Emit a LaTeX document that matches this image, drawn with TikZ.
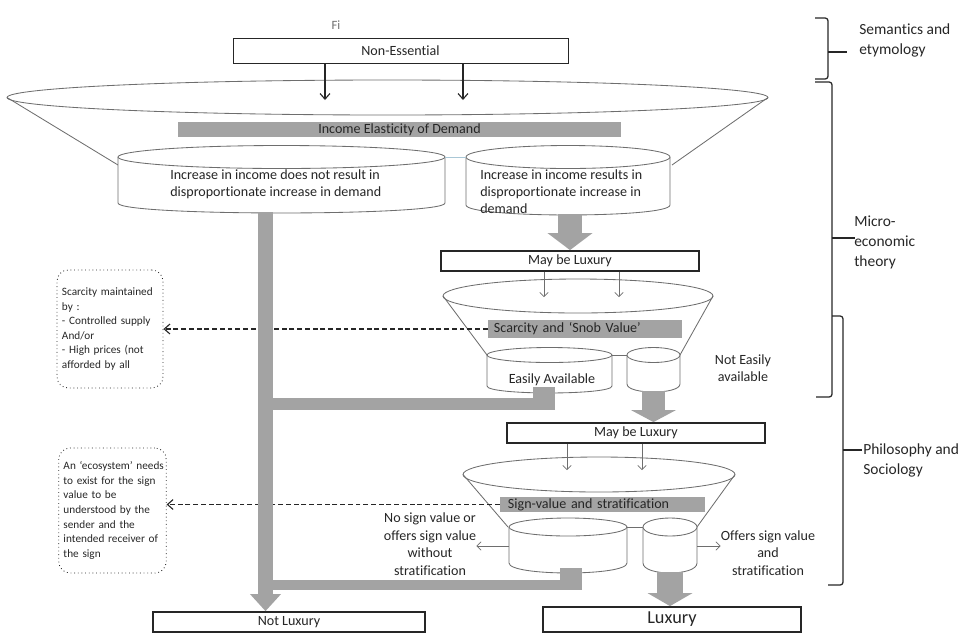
\documentclass[tikz,border=0pt]{standalone}
\usepackage{fontspec}
\setmainfont{Carlito}[Ligatures={TeX,NoCommon}]
\usepackage{xcolor}
\usepackage{tikz}
\usetikzlibrary{positioning,arrows.meta}
\definecolor{ink}     {HTML}{262626}
\definecolor{edge}    {HTML}{6E6E6E}
\definecolor{bargrey} {HTML}{A3A3A3}
\definecolor{linkblue}{HTML}{A9C7D6}
\tikzset{
  plainbox/.style  = {draw=ink, line width=0.6pt, fill=white, text=ink, inner sep=0pt,
                      font=\fontsize{10}{12}\selectfont},
  heavybox/.style  = {plainbox, line width=1.3pt},
  greybar/.style   = {fill=bargrey, draw=none, text=ink, inner sep=0pt,
                      font=\fontsize{10}{12}\selectfont},
  cyl/.style       = {draw=edge, line width=0.6pt, fill=white},
  funnel/.style    = {draw=edge, line width=0.6pt},
  link/.style      = {draw=edge, line width=0.6pt},
  note/.style      = {draw=ink, dotted, line width=0.6pt, rounded corners=8pt, align=left,
                      text=ink, font=\fontsize{8}{10.4}\selectfont},
  flow/.style      = {-{Straight Barb[length=4pt,width=7pt]}, draw=ink, line width=0.8pt},
  thinflow/.style  = {-{Straight Barb[length=3pt,width=6pt]}, draw=edge, line width=0.5pt},
  dashflow/.style  = {-{Straight Barb[length=4pt,width=7pt]}, draw=ink, line width=0.8pt,
                      dash pattern=on 3.5pt off 2pt},
  blockflow/.style = {draw=bargrey, line width=0.6cm,
                      -{Triangle[length=0.35cm,width=1.125cm,line width=0pt]}},
  trunk/.style     = {draw=bargrey, line width=0.375cm,
                      -{Triangle[length=0.425cm,width=0.775cm,line width=0pt]}},
  joinbar/.style   = {draw=bargrey, line width=0.3cm},
  brace/.style     = {draw=ink, line width=0.9pt, rounded corners=2pt},
  lbl/.style       = {font=\fontsize{10}{12}\selectfont, text=ink, align=left, inner sep=0pt},
  side/.style      = {font=\fontsize{11}{14.2}\selectfont, text=ink, align=left, inner sep=0pt},
}

\begin{document}
\begin{tikzpicture}[x=0.025cm, y=-0.025cm]
  \useasboundingbox (0,0) rectangle (968,634);

  % top
  \node[lbl, text=edge, font=\fontsize{9}{11}\selectfont] (figLbl) at (336,25) {Fi};
  \node[plainbox, minimum width=8.375cm, minimum height=0.625cm] (nonEss) at (400.5,50.5) {Non-Essential};

  % funnel 1: income elasticity
  \draw[funnel] (387.5,97.5) ellipse [x radius=380.5, y radius=17.5];
  \draw[funnel] (7,97.5) -- (118,165);
  \draw[funnel] (768,97.5) -- (672,165);
  \coordinate (inA1) at (325,100);
  \coordinate (inA2) at (463,100);
  \draw[flow] (nonEss.south -| inA1) -- (inA1);
  \draw[flow] (nonEss.south -| inA2) -- (inA2);
  \node[greybar, minimum width=11.075cm, minimum height=0.375cm] (elastic) at (399.5,129.5) {Income Elasticity of Demand};

  \filldraw[cyl] (118,157) -- (118,203) .. controls (118,216.3) and (445,216.3) .. (445,203) -- (445,157);
  \filldraw[cyl] (281.5,157) ellipse [x radius=163.5, y radius=11.5];
  \filldraw[cyl] (466,157) -- (466,205) .. controls (466,218.3) and (670,218.3) .. (670,205) -- (670,157);
  \filldraw[cyl] (568,157) ellipse [x radius=102, y radius=11.5];
  \coordinate (noE) at (445,157);
  \coordinate (yesW) at (466,157);
  \draw[link, draw=linkblue] (noE) -- (yesW);
  \node[lbl, anchor=west] (noInc) at (170,184) {Increase in income does not result in\\disproportionate increase in demand};
  \node[lbl, anchor=west] (yesInc) at (480,192) {Increase in income results in\\disproportionate increase in\\demand};

  % funnel 2: scarcity
  \coordinate (yesBot) at (570,214);
  \node[heavybox, minimum width=6.45cm, minimum height=0.5cm] (may1) at (570,261) {May be Luxury};
  \draw[blockflow, -{Triangle[length=0.425cm,width=1.125cm,line width=0pt]}] (yesBot) -- (yesBot |- may1.north);
  \draw[funnel] (578,296) ellipse [x radius=135, y radius=17];
  \draw[funnel] (443,296) -- (487,355);
  \draw[funnel] (713,296) -- (680,355);
  \coordinate (inB1) at (544,297);
  \coordinate (inB2) at (619,297);
  \draw[thinflow] (may1.south -| inB1) -- (inB1);
  \draw[thinflow] (may1.south -| inB2) -- (inB2);
  \node[greybar, minimum width=4.85cm, minimum height=0.45cm, text width=4.55cm, align=left] (scarBar) at (585,329) {Scarcity and ‘Snob Value’};

  \filldraw[cyl] (487,355) -- (487,386) .. controls (487,395.3) and (612,395.3) .. (612,386) -- (612,355);
  \filldraw[cyl] (549.5,355) ellipse [x radius=62.5, y radius=7.5];
  \filldraw[cyl] (627,355) -- (627,384) .. controls (627,394.7) and (680,394.7) .. (680,384) -- (680,355);
  \filldraw[cyl] (653.5,355) ellipse [x radius=26.5, y radius=7.5];
  \coordinate (easyE) at (612,355);
  \coordinate (hardW) at (627,355);
  \draw[link] (easyE) -- (hardW);
  \node[lbl, align=center] (easyLbl) at (552,380) {Easily Available};
  \node[lbl, align=center] (hardLbl) at (743,368) {Not Easily\\available};

  \node[note, minimum width=2.65cm, minimum height=2.95cm, text width=2.4cm] (scarNote) at (110,329)
    {Scarcity maintained\\by :\\- Controlled supply\\And/or\\- High prices (not\\afforded by all};
  \draw[dashflow] (scarBar.west) -- (scarNote.east);

  % funnel 3: sign value
  \coordinate (hardBot) at (653.5,391);
  \node[heavybox, minimum width=6.45cm, minimum height=0.5cm] (may2) at (636,433) {May be Luxury};
  \draw[blockflow, line width=0.575cm, -{Triangle[length=0.3cm,width=1.125cm,line width=0pt]}] (hardBot) -- (hardBot |- may2.north);
  \draw[funnel] (599,474.5) ellipse [x radius=136, y radius=17.5];
  \draw[funnel] (463,474.5) -- (508,527);
  \draw[funnel] (735,474.5) -- (697,527);
  \coordinate (inC1) at (567,470);
  \coordinate (inC2) at (642,470);
  \draw[thinflow] (may2.south -| inC1) -- (inC1);
  \draw[thinflow] (may2.south -| inC2) -- (inC2);
  \node[greybar, minimum width=5.125cm, minimum height=0.375cm, text width=4.725cm, align=left] (signBar) at (602.5,504.5) {Sign-value and stratification};

  \filldraw[cyl] (509,527) -- (509,563) .. controls (509,576.3) and (627,576.3) .. (627,563) -- (627,527);
  \filldraw[cyl] (568,527) ellipse [x radius=59, y radius=9];
  \filldraw[cyl] (643,527) -- (643,563) .. controls (643,576.3) and (697,576.3) .. (697,563) -- (697,527);
  \filldraw[cyl] (670,527) ellipse [x radius=27, y radius=9];
  \coordinate (signNoE) at (627,527);
  \coordinate (signYesW) at (643,527);
  \draw[link] (signNoE) -- (signYesW);

  \node[lbl, align=center, font=\fontsize{10}{12.5}\selectfont] (noSign) at (430,544)
    {No sign value or\\offers sign value\\without\\stratification};
  \node[lbl, align=center, font=\fontsize{10}{12.5}\selectfont] (yesSign) at (768,553)
    {Offers sign value\\and\\stratification};
  \coordinate (signNoW) at (509,546);
  \coordinate (signYesR) at (697,546);
  \draw[thinflow] (signNoW) -- (noSign.east |- signNoW);
  \draw[thinflow] (signYesR) -- (yesSign.west |- signYesR);

  \node[note, minimum width=2.625cm, minimum height=3.125cm, text width=2.45cm] (signNote) at (112.5,510.5)
    {\makebox[2.45cm][l]{An ‘ecosystem’ needs}\\to exist for the sign\\value to be\\understood by the\\sender and the\\intended receiver of\\the sign};
  \draw[dashflow] (signBar.west) -- (signBar.west -| signNote.east);

  % outcomes
  \node[heavybox, minimum width=6.45cm, minimum height=0.625cm, font=\fontsize{13}{15}\selectfont] (lux) at (672,619.5) {Luxury};
  \node[heavybox, minimum width=6.8cm, minimum height=0.5cm] (notLux) at (289,622) {Not Luxury};
  \coordinate (signYesBot) at (670,572);
  \draw[blockflow, line width=0.65cm, -{Triangle[length=0.325cm,width=1.125cm,line width=0pt]}] (signYesBot) -- (signYesBot |- lux.north);

  % grey trunk to not luxury
  \coordinate (noBot) at (265.5,212);
  \draw[trunk] (noBot) -- (noBot |- notLux.north);
  \fill[bargrey] (533,387) rectangle (555,410);
  \coordinate (joinA) at (555,404);
  \draw[joinbar] (joinA) -- (joinA -| noBot);
  \fill[bargrey] (560,568) rectangle (582,590);
  \coordinate (joinB) at (582,585);
  \draw[joinbar, line width=0.25cm] (joinB) -- (joinB -| noBot);

  % braces
  \draw[brace] (815,18) -- (828,18) -- (828,79) -- (815,79);
  \draw[brace] (828,52) -- (847,52);
  \node[side, anchor=west] (semLbl) at (859,40) {Semantics and\\etymology};
  \draw[brace] (815,82) -- (832,82) -- (832,397) -- (816,397);
  \draw[brace] (832,238) -- (855,238);
  \node[side, anchor=west] (microLbl) at (854,242) {Micro-\\economic\\theory};
  \draw[brace] (832,316) -- (843,316) -- (843,585) -- (828,585);
  \draw[brace] (843,450) -- (862,450);
  \node[side, anchor=west] (philLbl) at (863,460) {Philosophy and\\Sociology};
\end{tikzpicture}
\end{document}
